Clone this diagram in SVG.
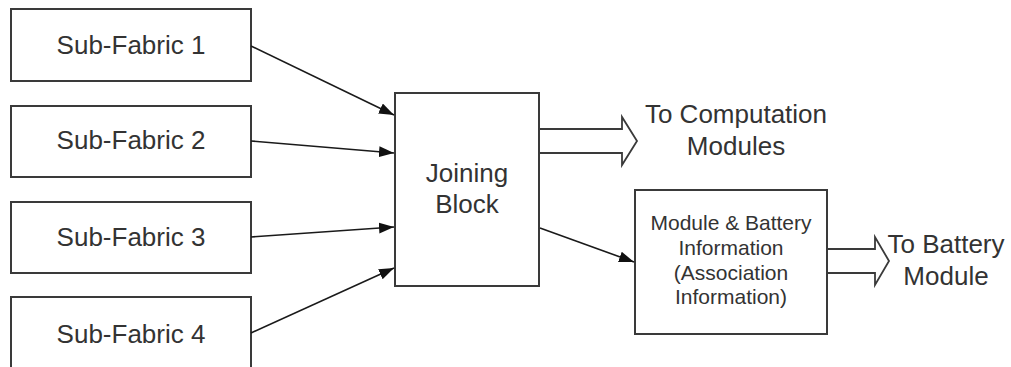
<svg xmlns="http://www.w3.org/2000/svg" width="1011" height="367" viewBox="0 0 1011 367">
  <style>
    .box { fill: #ffffff; stroke: #3a3a3a; stroke-width: 2; }
    .lbl { font-family: "Liberation Sans", Arial, sans-serif; font-size: 26px; fill: #333333; text-anchor: middle; }
    .small { font-size: 21px; }
    .wire { stroke: #1a1a1a; stroke-width: 1.6; fill: none; marker-end: url(#head); }
    .fat { fill: #ffffff; stroke: #3a3a3a; stroke-width: 1.8; stroke-linejoin: miter; }
  </style>
  <defs>
    <marker id="head" markerUnits="userSpaceOnUse" markerWidth="16" markerHeight="12" refX="15" refY="5.5" orient="auto">
      <path d="M0,0 L15,5.5 L0,11 z" fill="#111111"/>
    </marker>
  </defs>
  <rect width="1011" height="367" fill="#ffffff"/>

  <g id="sub-fabric-1">
    <rect class="box" x="11" y="9" width="240" height="72"/>
    <text class="lbl" x="131" y="54">Sub-Fabric 1</text>
  </g>
  <g id="sub-fabric-2">
    <rect class="box" x="11" y="106" width="240" height="71"/>
    <text class="lbl" x="131" y="149">Sub-Fabric 2</text>
  </g>
  <g id="sub-fabric-3">
    <rect class="box" x="11" y="202" width="240" height="71"/>
    <text class="lbl" x="131" y="246">Sub-Fabric 3</text>
  </g>
  <g id="sub-fabric-4">
    <rect class="box" x="11" y="297" width="240" height="90"/>
    <text class="lbl" x="131" y="343">Sub-Fabric 4</text>
  </g>

  <g id="joining-block">
    <rect class="box" x="395" y="93" width="144" height="193"/>
    <text class="lbl" x="467" y="182">Joining</text>
    <text class="lbl" x="467" y="213">Block</text>
  </g>

  <g id="association-info">
    <rect class="box" x="635" y="190" width="192" height="144"/>
    <text class="lbl small" x="731" y="230">Module &amp; Battery</text>
    <text class="lbl small" x="731" y="255">Information</text>
    <text class="lbl small" x="731" y="280">(Association</text>
    <text class="lbl small" x="731" y="304">Information)</text>
  </g>

  <g id="to-computation">
    <text class="lbl" x="736" y="123">To Computation</text>
    <text class="lbl" x="736" y="155">Modules</text>
  </g>

  <g id="to-battery">
    <text class="lbl" x="946" y="253">To Battery</text>
    <text class="lbl" x="946" y="285">Module</text>
  </g>

  <g id="connectors">
    <line class="wire" x1="251" y1="46" x2="394" y2="115"/>
    <line class="wire" x1="251" y1="141" x2="394" y2="153"/>
    <line class="wire" x1="251" y1="237" x2="394" y2="227"/>
    <line class="wire" x1="251" y1="333" x2="394" y2="268"/>
    <line class="wire" x1="540" y1="228" x2="634" y2="262"/>
    <path class="fat" d="M540,129 H622 V117 L637,141 L622,165 V153 H540"/>
    <path class="fat" d="M828,249 H875 V237 L889,261 L875,285 V273 H828"/>
  </g>
</svg>
